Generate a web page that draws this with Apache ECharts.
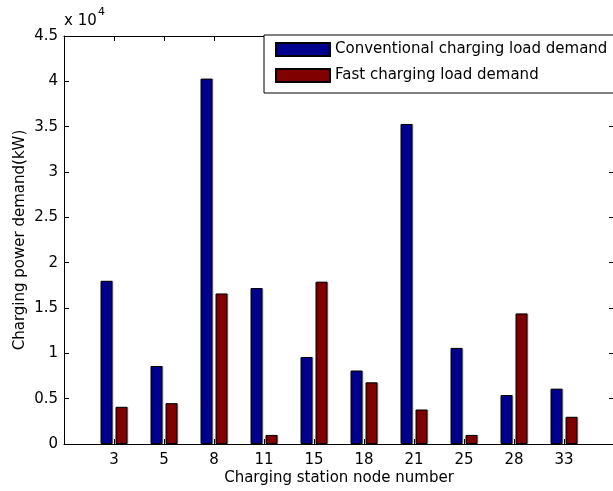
<!DOCTYPE html>
<html>
<head>
<meta charset="utf-8">
<script src="https://cdn.jsdelivr.net/npm/echarts@6/dist/echarts.min.js"></script>
<style>
  html, body { margin: 0; padding: 0; background: #fff; overflow: hidden; }
  #chart { width: 650px; height: 491px; }
</style>
</head>
<body>
<div id="chart"></div>
<script>
// station node numbers on the x axis
const nodes = ['3', '5', '8', '11', '15', '18', '21', '25', '28', '33'];
// load demand in kW
const conventionalLoad = [18000, 8600, 40300, 17200, 9600, 8100, 35300, 10600, 5400, 6100];
const fastLoad = [4100, 4500, 16600, 1000, 17900, 6800, 3800, 1000, 14400, 3000];
const seriesNames = ['Conventional charging load demand', 'Fast charging load demand'];

// pad one empty slot on each side, like the MATLAB x range 0..11
const axisCats = [''].concat(nodes, ['']);
const pad = (arr) => ['-'].concat(arr, ['-']);

const FONT = 'DejaVu Sans';
const chart = echarts.init(document.getElementById('chart'), null, { width: 650, height: 491 });

const tickIn = { show: true, inside: true, length: 5, alignWithLabel: true, lineStyle: { color: '#000', width: 1 } };
const lineBlack = { show: true, onZero: false, lineStyle: { color: '#000', width: 1 } };

chart.setOption({
  backgroundColor: '#fff',
  animation: false,
  // plot runs from x=64 to x=614, just past the 613px window
  grid: { left: 64, right: 36, top: 36, bottom: 47, containLabel: false },
  graphic: [
    { type: 'text', left: 64, top: 14, style: { text: 'x 10', font: '15px "DejaVu Sans"', fill: '#000' } },
    { type: 'text', left: 98, top: 7, style: { text: '4', font: '11px "DejaVu Sans"', fill: '#000' } }
  ],
  legend: {
    left: 264,
    top: 35,
    orient: 'vertical',
    padding: [7, 20, 10, 11],
    itemWidth: 54,
    itemHeight: 13,
    itemGap: 11,
    backgroundColor: '#fff',
    borderColor: '#000',
    borderWidth: 1,
    borderRadius: 0,
    icon: 'rect',
    data: seriesNames,
    textStyle: { fontFamily: FONT, fontSize: 15, color: '#000', lineHeight: 13 }
  },
  xAxis: [
    {
      type: 'category',
      data: axisCats,
      boundaryGap: false,
      position: 'bottom',
      axisLine: lineBlack,
      axisTick: tickIn,
      axisLabel: { interval: 0, fontFamily: FONT, fontSize: 15, color: '#000', margin: 9 },
      splitLine: { show: false },
      name: 'Charging station node number',
      nameLocation: 'middle',
      nameGap: 27,
      nameMoveOverlap: false,
      nameTextStyle: { fontFamily: FONT, fontSize: 15, color: '#000' }
    },
    {
      type: 'category',
      data: axisCats,
      boundaryGap: false,
      position: 'top',
      axisLine: lineBlack,
      axisTick: tickIn,
      axisLabel: { show: false },
      splitLine: { show: false }
    }
  ],
  yAxis: [
    {
      type: 'value',
      min: 0,
      max: 45000,
      interval: 5000,
      position: 'left',
      axisLine: lineBlack,
      axisTick: { show: true, inside: true, length: 5, lineStyle: { color: '#000' } },
      axisLabel: {
        fontFamily: FONT, fontSize: 15, color: '#000', margin: 6,
        formatter: (v) => String(v / 10000)
      },
      splitLine: { show: false },
      name: 'Charging power demand(kW)',
      nameLocation: 'middle',
      nameGap: 36,
      nameMoveOverlap: false,
      nameTextStyle: { fontFamily: FONT, fontSize: 15, color: '#000' }
    },
    {
      type: 'value',
      min: 0,
      max: 45000,
      interval: 5000,
      position: 'right',
      axisLine: lineBlack,
      axisTick: { show: true, inside: true, length: 5, lineStyle: { color: '#000' } },
      axisLabel: { show: false },
      splitLine: { show: false }
    }
  ],
  series: [
    {
      name: seriesNames[0],
      type: 'bar',
      data: pad(conventionalLoad),
      barWidth: 12,
      barGap: '25%',
      itemStyle: {
        color: '#00008F', borderColor: '#000', borderWidth: 1,
        shadowColor: 'rgba(0,0,0,0.22)', shadowOffsetX: 1, shadowBlur: 0
      }
    },
    {
      name: seriesNames[1],
      type: 'bar',
      data: pad(fastLoad),
      barWidth: 12,
      barGap: '25%',
      itemStyle: {
        color: '#800000', borderColor: '#000', borderWidth: 1,
        shadowColor: 'rgba(0,0,0,0.22)', shadowOffsetX: 1, shadowBlur: 0
      }
    }
  ]
});
</script>
</body>
</html>
